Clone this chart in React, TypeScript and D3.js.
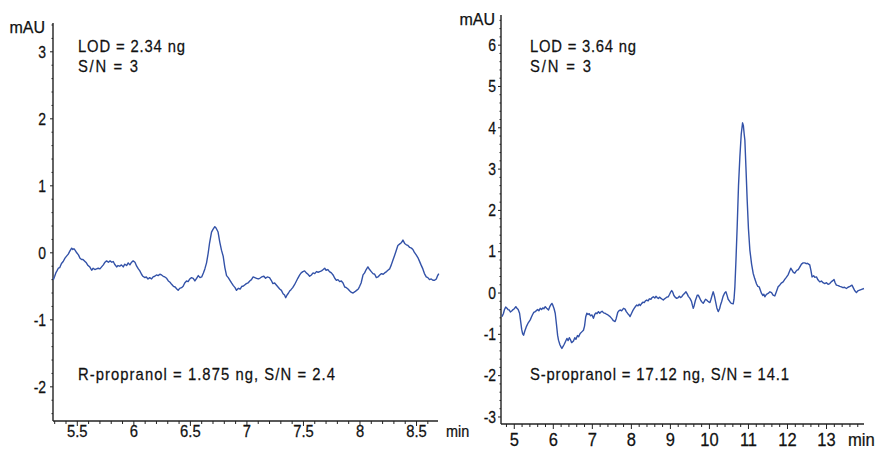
import React from "react";
import * as d3 from "d3";

// ---------- DATA ----------
// Left chromatogram (R-propranol): [time (min), signal (mAU)]
const leftTrace: [number, number][] = [
  [5.288, -0.40], [5.30, -0.35], [5.31, -0.30], [5.32, -0.27], [5.332, -0.23], [5.345, -0.22],
  [5.36, -0.16], [5.375, -0.13], [5.391, -0.08], [5.405, -0.05], [5.42, -0.02], [5.435, 0.03],
  [5.45, 0.07], [5.46, 0.05], [5.47, 0.06], [5.48, 0.04], [5.495, 0.0], [5.51, -0.03],
  [5.524, -0.08], [5.538, -0.10], [5.55, -0.10], [5.568, -0.13], [5.58, -0.15], [5.595, -0.19],
  [5.61, -0.21], [5.627, -0.26], [5.64, -0.23], [5.655, -0.25], [5.67, -0.24], [5.685, -0.23],
  [5.70, -0.24], [5.715, -0.21], [5.73, -0.18], [5.745, -0.14], [5.759, -0.12], [5.775, -0.14],
  [5.79, -0.12], [5.805, -0.14], [5.818, -0.13], [5.83, -0.17], [5.848, -0.21], [5.86, -0.19],
  [5.875, -0.20], [5.89, -0.18], [5.906, -0.21], [5.92, -0.17], [5.936, -0.19], [5.95, -0.15],
  [5.965, -0.18], [5.98, -0.14], [5.994, -0.12], [6.01, -0.14], [6.025, -0.20], [6.04, -0.24],
  [6.053, -0.27], [6.068, -0.32], [6.08, -0.35], [6.098, -0.37], [6.11, -0.36], [6.125, -0.39],
  [6.14, -0.37], [6.157, -0.39], [6.17, -0.36], [6.185, -0.35], [6.20, -0.33], [6.215, -0.34],
  [6.23, -0.32], [6.245, -0.33], [6.26, -0.35], [6.274, -0.36], [6.29, -0.38], [6.305, -0.42],
  [6.32, -0.44], [6.334, -0.47], [6.35, -0.50], [6.365, -0.51], [6.38, -0.54], [6.392, -0.56],
  [6.405, -0.53], [6.422, -0.52], [6.436, -0.50], [6.45, -0.45], [6.466, -0.42], [6.48, -0.43],
  [6.495, -0.39], [6.51, -0.37], [6.525, -0.38], [6.54, -0.42], [6.555, -0.38], [6.57, -0.34],
  [6.585, -0.37], [6.60, -0.36], [6.615, -0.30], [6.628, -0.24], [6.643, -0.15], [6.657, -0.01],
  [6.67, 0.15], [6.687, 0.31], [6.70, 0.35], [6.716, 0.39], [6.727, 0.37], [6.745, 0.31],
  [6.76, 0.16], [6.775, 0.04], [6.79, -0.05], [6.805, -0.22], [6.82, -0.34], [6.835, -0.37],
  [6.85, -0.41], [6.864, -0.45], [6.88, -0.49], [6.895, -0.52], [6.908, -0.56], [6.925, -0.53],
  [6.94, -0.54], [6.955, -0.50], [6.966, -0.50], [6.98, -0.48], [6.995, -0.46], [7.01, -0.45],
  [7.025, -0.42], [7.04, -0.40], [7.055, -0.36], [7.07, -0.37], [7.085, -0.38], [7.10, -0.39],
  [7.114, -0.38], [7.13, -0.36], [7.15, -0.35], [7.165, -0.38], [7.18, -0.36], [7.20, -0.37],
  [7.215, -0.41], [7.23, -0.46], [7.245, -0.45], [7.26, -0.48], [7.275, -0.51], [7.29, -0.54],
  [7.305, -0.56], [7.32, -0.61], [7.333, -0.63], [7.343, -0.67], [7.355, -0.63], [7.368, -0.60],
  [7.378, -0.57], [7.39, -0.55], [7.405, -0.52], [7.42, -0.48], [7.438, -0.42], [7.45, -0.38],
  [7.467, -0.33], [7.48, -0.30], [7.495, -0.28], [7.51, -0.27], [7.525, -0.30], [7.54, -0.32],
  [7.555, -0.35], [7.57, -0.33], [7.585, -0.30], [7.60, -0.31], [7.615, -0.28], [7.63, -0.29],
  [7.644, -0.28], [7.66, -0.27], [7.675, -0.25], [7.688, -0.23], [7.70, -0.26], [7.715, -0.25],
  [7.73, -0.28], [7.747, -0.30], [7.762, -0.33], [7.777, -0.38], [7.791, -0.41], [7.805, -0.40],
  [7.82, -0.43], [7.835, -0.42], [7.85, -0.45], [7.865, -0.51], [7.88, -0.52], [7.894, -0.54],
  [7.91, -0.57], [7.924, -0.59], [7.939, -0.60], [7.955, -0.58], [7.97, -0.56], [7.985, -0.54],
  [7.997, -0.50], [8.01, -0.45], [8.027, -0.33], [8.041, -0.30], [8.055, -0.25], [8.07, -0.21],
  [8.085, -0.25], [8.10, -0.28], [8.115, -0.31], [8.13, -0.32], [8.145, -0.37], [8.159, -0.36],
  [8.175, -0.33], [8.19, -0.31], [8.205, -0.32], [8.218, -0.30], [8.235, -0.28], [8.247, -0.26],
  [8.262, -0.24], [8.277, -0.18], [8.291, -0.11], [8.306, -0.04], [8.32, 0.03], [8.335, 0.11],
  [8.35, 0.13], [8.365, 0.15], [8.38, 0.19], [8.395, 0.14], [8.41, 0.12], [8.424, 0.11],
  [8.44, 0.08], [8.455, 0.07], [8.468, 0.05], [8.48, 0.01], [8.497, -0.03], [8.512, -0.07],
  [8.525, -0.12], [8.54, -0.18], [8.556, -0.24], [8.57, -0.31], [8.586, -0.36], [8.60, -0.37],
  [8.615, -0.40], [8.63, -0.39], [8.645, -0.41], [8.66, -0.41], [8.675, -0.39], [8.687, -0.34],
  [8.697, -0.31],
];

// Right chromatogram (S-propranol): [time (min), signal (mAU)]
const rightTrace: [number, number][] = [
  [4.685, -0.57], [4.72, -0.50], [4.75, -0.40], [4.78, -0.34], [4.813, -0.37], [4.84, -0.40],
  [4.872, -0.41], [4.90, -0.46], [4.941, -0.43], [4.97, -0.40], [5.0, -0.38], [5.04, -0.33],
  [5.069, -0.37], [5.10, -0.40], [5.136, -0.49], [5.16, -0.66], [5.19, -0.88], [5.215, -0.99],
  [5.238, -1.02], [5.27, -0.92], [5.307, -0.82], [5.358, -0.72], [5.409, -0.65], [5.44, -0.58],
  [5.47, -0.52], [5.50, -0.47], [5.537, -0.45], [5.57, -0.42], [5.60, -0.40], [5.63, -0.43],
  [5.665, -0.37], [5.70, -0.40], [5.73, -0.36], [5.76, -0.38], [5.793, -0.33], [5.83, -0.37],
  [5.877, -0.41], [5.91, -0.33], [5.94, -0.28], [5.964, -0.25], [5.99, -0.30], [6.02, -0.38],
  [6.049, -0.49], [6.08, -0.75], [6.11, -1.02], [6.133, -1.14], [6.17, -1.25], [6.20, -1.31],
  [6.22, -1.34], [6.25, -1.29], [6.28, -1.24], [6.31, -1.18], [6.348, -1.10], [6.38, -1.15],
  [6.41, -1.08], [6.44, -1.13], [6.47, -1.20], [6.517, -1.16], [6.55, -1.08], [6.58, -1.12],
  [6.62, -1.03], [6.65, -1.06], [6.688, -0.98], [6.73, -0.94], [6.772, -0.90], [6.80, -0.80],
  [6.83, -0.58], [6.859, -0.49], [6.89, -0.52], [6.92, -0.50], [6.95, -0.55], [6.99, -0.53],
  [7.028, -0.61], [7.06, -0.52], [7.09, -0.48], [7.12, -0.50], [7.156, -0.45], [7.19, -0.49],
  [7.22, -0.46], [7.25, -0.44], [7.29, -0.48], [7.327, -0.49], [7.36, -0.51], [7.40, -0.53],
  [7.455, -0.57], [7.50, -0.62], [7.54, -0.67], [7.583, -0.69], [7.61, -0.62], [7.65, -0.47],
  [7.68, -0.43], [7.711, -0.41], [7.75, -0.43], [7.80, -0.37], [7.839, -0.39], [7.87, -0.45],
  [7.91, -0.50], [7.94, -0.53], [7.967, -0.57], [8.00, -0.50], [8.04, -0.42], [8.08, -0.36],
  [8.11, -0.32], [8.138, -0.29], [8.17, -0.31], [8.20, -0.27], [8.23, -0.30], [8.266, -0.25],
  [8.30, -0.22], [8.33, -0.23], [8.36, -0.19], [8.394, -0.17], [8.43, -0.19], [8.46, -0.14],
  [8.50, -0.15], [8.53, -0.11], [8.563, -0.09], [8.60, -0.12], [8.63, -0.08], [8.66, -0.11],
  [8.691, -0.13], [8.72, -0.10], [8.76, -0.13], [8.79, -0.15], [8.818, -0.17], [8.85, -0.14],
  [8.88, -0.12], [8.91, -0.10], [8.946, -0.09], [8.98, -0.03], [9.01, 0.03], [9.033, 0.06],
  [9.06, 0.02], [9.09, -0.06], [9.12, -0.10], [9.161, -0.13], [9.20, -0.11], [9.23, -0.08],
  [9.26, -0.11], [9.289, -0.09], [9.32, -0.05], [9.36, -0.01], [9.399, 0.03], [9.43, -0.02],
  [9.46, -0.08], [9.501, -0.13], [9.54, -0.20], [9.565, -0.30], [9.586, -0.37], [9.61, -0.30],
  [9.64, -0.18], [9.67, -0.10], [9.69, -0.05], [9.714, -0.05], [9.74, -0.10], [9.78, -0.18],
  [9.81, -0.22], [9.841, -0.25], [9.87, -0.20], [9.90, -0.15], [9.928, -0.17], [9.96, -0.20],
  [9.99, -0.22], [10.013, -0.23], [10.04, -0.15], [10.07, -0.05], [10.097, 0.03], [10.13, -0.08],
  [10.16, -0.22], [10.19, -0.36], [10.225, -0.45], [10.26, -0.38], [10.29, -0.27], [10.312, -0.21],
  [10.35, -0.08], [10.39, 0.0], [10.422, 0.03], [10.45, -0.05], [10.48, -0.15], [10.524, -0.21],
  [10.56, -0.25], [10.609, -0.26], [10.63, -0.15], [10.652, 0.15], [10.68, 0.80], [10.711, 1.61],
  [10.745, 2.60], [10.78, 3.30], [10.815, 3.85], [10.849, 4.12], [10.87, 4.05], [10.89, 3.85],
  [10.908, 3.70], [10.935, 3.05], [10.967, 2.25], [11.0, 1.55], [11.036, 1.04], [11.08, 0.70],
  [11.12, 0.48], [11.16, 0.35], [11.207, 0.22], [11.24, 0.16], [11.274, 0.15], [11.30, 0.08],
  [11.335, -0.01], [11.37, -0.06], [11.395, -0.03], [11.419, -0.09], [11.46, -0.03], [11.504, -0.01],
  [11.55, 0.03], [11.591, 0.01], [11.63, -0.05], [11.675, -0.07], [11.71, 0.02], [11.76, 0.15],
  [11.80, 0.19], [11.84, 0.24], [11.888, 0.27], [11.93, 0.33], [11.97, 0.38], [12.015, 0.44],
  [12.05, 0.52], [12.084, 0.60], [12.12, 0.55], [12.15, 0.50], [12.187, 0.48], [12.22, 0.53],
  [12.25, 0.56], [12.271, 0.56], [12.31, 0.62], [12.358, 0.70], [12.40, 0.73], [12.442, 0.73],
  [12.48, 0.71], [12.511, 0.72], [12.54, 0.70], [12.57, 0.68], [12.60, 0.55], [12.629, 0.39],
  [12.67, 0.42], [12.70, 0.38], [12.742, 0.39], [12.78, 0.32], [12.826, 0.27], [12.87, 0.29],
  [12.91, 0.25], [12.954, 0.23], [13.00, 0.25], [13.04, 0.21], [13.082, 0.23], [13.12, 0.27],
  [13.16, 0.30], [13.192, 0.33], [13.22, 0.25], [13.253, 0.19], [13.30, 0.18], [13.34, 0.16],
  [13.381, 0.15], [13.42, 0.13], [13.46, 0.14], [13.509, 0.11], [13.55, 0.14], [13.60, 0.16],
  [13.652, 0.19], [13.69, 0.12], [13.72, 0.06], [13.765, 0.01], [13.80, 0.05], [13.849, 0.07],
  [13.90, 0.09], [13.959, 0.11],
];

const leftXTicks = [5.5, 6, 6.5, 7, 7.5, 8, 8.5];
const leftYTicks = [-2, -1, 0, 1, 2, 3];
const rightXTicks = [5, 6, 7, 8, 9, 10, 11, 12, 13];
const rightYTicks = [-3, -2, -1, 0, 1, 2, 3, 4, 5, 6];

const leftNotes = ["LOD = 2.34 ng", "S/N = 3", "R-propranol = 1.875 ng, S/N = 2.4"];
const rightNotes = ["LOD = 3.64 ng", "S/N = 3", "S-propranol = 17.12 ng, S/N = 14.1"];
const yUnit = "mAU";
const xUnit = "min";

// ---------- STYLE ----------
const FONT = "'Liberation Sans', Arial, sans-serif";
const SX = 0.87; // horizontal condensing of the text
const LINE = "#3352a8";
const AXIS = "#222";
const INK = "#111";

type CTextProps = {
  x: number; y: number; size: number; anchor?: "start" | "middle" | "end";
  dy?: string; width?: number; sx?: number; children: React.ReactNode;
};

function CText({ x, y, size, anchor = "start", dy, width, sx = SX, children }: CTextProps) {
  return (
    <g transform={`translate(${x},${y}) scale(${sx},1)`}>
      <text
        x={0} y={0} dy={dy} textAnchor={anchor} fontSize={size} fontFamily={FONT} fill={INK}
        stroke={INK} strokeWidth={0.25}
        {...(width ? { textLength: width / sx, lengthAdjust: "spacing" } : {})}
      >
        {children}
      </text>
    </g>
  );
}

type PanelProps = {
  left: number; right: number; top: number; bottom: number;
  xDomain: [number, number]; yDomain: [number, number];
  xTicks: number[]; yTicks: number[];
  xMinor: number; yMinor: number;
  trace: [number, number][];
  notes: string[]; noteX: number; noteY: number[]; noteW: number[];
  xLabelSize: number; xLabelY: number; yLabelGap: number; unitX: number; unitY: number;
  minX: number; minY: number; minSize: number;
};

function minorTicks(domain: [number, number], step: number, majors: number[]) {
  const n0 = Math.ceil(domain[0] / step - 1e-6);
  const n1 = Math.floor(domain[1] / step + 1e-6);
  return d3.range(n0, n1 + 1)
    .map((i) => +(i * step).toFixed(4))
    .filter((v) => !majors.some((m) => Math.abs(m - v) < 1e-6));
}

function Panel(p: PanelProps) {
  const x = d3.scaleLinear().domain(p.xDomain).range([p.left, p.right]);
  const y = d3.scaleLinear().domain(p.yDomain).range([p.bottom, p.top]);
  const line = d3.line<[number, number]>().x((d) => x(d[0])).y((d) => y(d[1]));
  const xMin = minorTicks(p.xDomain, p.xMinor, p.xTicks);
  const yMin = minorTicks(p.yDomain, p.yMinor, p.yTicks);
  return (
    <g>
      <line x1={p.left} x2={p.left} y1={p.top} y2={p.bottom} stroke={AXIS} strokeWidth={1.4} />
      <line x1={p.left} x2={p.right} y1={p.bottom} y2={p.bottom} stroke={AXIS} strokeWidth={1.4} />
      {p.yTicks.map((t) => (
        <g key={"yt" + t}>
          <line x1={p.left - 3} x2={p.left} y1={y(t)} y2={y(t)} stroke={AXIS} strokeWidth={1} />
          <CText x={p.left - p.yLabelGap} y={y(t)} dy="0.36em" anchor="end" size={16}>{t}</CText>
        </g>
      ))}
      {yMin.map((t) => (
        <line key={"ym" + t} x1={p.left - 1.5} x2={p.left} y1={y(t)} y2={y(t)} stroke={AXIS} strokeWidth={1} />
      ))}
      {p.xTicks.map((t) => (
        <g key={"xt" + t}>
          <line x1={x(t)} x2={x(t)} y1={p.bottom} y2={p.bottom + 5} stroke={AXIS} strokeWidth={1} />
          <CText x={x(t)} y={p.xLabelY} anchor="middle" size={p.xLabelSize}>{String(t)}</CText>
        </g>
      ))}
      {xMin.map((t) => (
        <line key={"xm" + t} x1={x(t)} x2={x(t)} y1={p.bottom} y2={p.bottom + 3} stroke={AXIS} strokeWidth={1} />
      ))}
      <CText x={p.unitX} y={p.unitY} anchor="end" size={16} sx={1}>{yUnit}</CText>
      <CText x={p.minX} y={p.minY} size={p.minSize} sx={0.9}>{xUnit}</CText>
      <path d={line(p.trace) || ""} fill="none" stroke={LINE} strokeWidth={1.4} strokeLinejoin="round" />
      {p.notes.map((s, i) => (
        <CText key={"n" + i} x={p.noteX} y={p.noteY[i]} size={17} width={p.noteW[i]}>{s}</CText>
      ))}
    </g>
  );
}

export default function App() {
  return (
    <svg width={876} height={449} style={{ position: "absolute", left: 0, top: 0, background: "#fff" }}>
      <rect width={876} height={449} fill="#fff" />
      <Panel
        left={53} right={438} top={23} bottom={421}
        xDomain={[5.285, 8.69]} yDomain={[-2.51, 3.43]}
        xTicks={leftXTicks} yTicks={leftYTicks} xMinor={0.1} yMinor={0.2}
        trace={leftTrace}
        notes={leftNotes} noteX={78} noteY={[52, 72, 380]} noteW={[107, 60, 257]}
        xLabelSize={17} xLabelY={437} yLabelGap={7} unitX={45} unitY={33}
        minX={446} minY={437} minSize={16}
      />
      <Panel
        left={501} right={864} top={15} bottom={424}
        xDomain={[4.66, 13.96]} yDomain={[-3.17, 6.73]}
        xTicks={rightXTicks} yTicks={rightYTicks} xMinor={0.2} yMinor={0.2}
        trace={rightTrace}
        notes={rightNotes} noteX={530} noteY={[52, 72, 380]} noteW={[106, 61, 259]}
        xLabelSize={19} xLabelY={446} yLabelGap={5} unitX={495} unitY={25}
        minX={848} minY={446} minSize={18.5}
      />
    </svg>
  );
}
